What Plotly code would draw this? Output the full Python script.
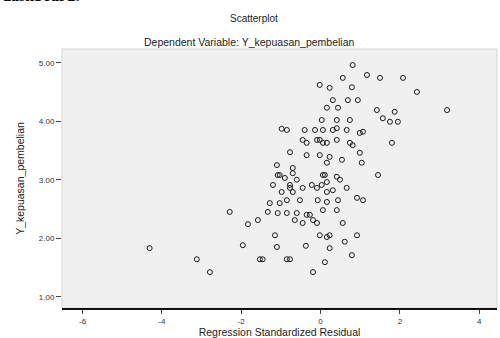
import plotly.graph_objects as go

# Regression standardized residual (x) vs dependent variable (y)
residual = [
    -4.31, -3.12, -2.79, -2.29, -1.83, -1.58, -1.96, -1.53, -1.46, -1.10,
    -1.15, -0.85, -0.77, -0.37, -0.19, -1.28, -1.03, -1.33, -1.08, -0.85,
    -0.60, -0.27, -0.45, -0.09, -0.02, 0.16, -1.03, -0.70, -1.20, -0.77,
    -0.45, -0.22, 0.03, 0.16, -0.52, -0.07, 0.16, -0.98, -0.70,
    -0.02, 0.16, 0.03, -0.98, -0.40, -0.14, -0.45, -0.09, 0.16, -0.77,
    -0.35, -0.02, -1.10, -0.70, -1.08, 0.11,
    0.81, 1.17, 1.50, 2.08, 0.56, 0.23, 0.79, 2.43, 0.31, 0.69,
    0.94, 1.42, 1.87, 3.19, 0.44, 1.57, 1.75, 1.95, 0.41, 0.74,
    0.31, 0.66, 1.07, -0.02, 0.41, 0.74, 1.80, 0.23, 0.54, 1.04,
    0.41, 1.45,
    -0.85, 0.06, 0.41, 0.99, -0.35, 0.06, 0.81, 0.16, 0.99, -0.90,
    -0.60, 0.06, 0.16, 0.49, -0.77, -0.09, 0.31, 0.66, 0.92, 1.07,
    -0.85, 0.44, 0.06, 0.41, -0.35, -0.19, 0.56, -0.65, 0.23, 0.92,
    0.23, 0.61, 0.11, 0.79,
]
kepuasan = [
    1.83, 1.64, 1.42, 2.45, 2.24, 2.31, 1.88, 1.64, 1.64, 1.85,
    2.05, 1.64, 1.64, 1.87, 1.42, 2.60, 2.60, 2.45, 2.43, 2.43,
    2.43, 2.40, 2.26, 2.26, 2.05, 2.02, 3.08, 3.11, 2.91, 2.91,
    2.86, 2.91, 2.91, 2.79, 2.65, 2.65, 2.62, 2.79, 2.79,
    4.62, 4.23, 4.02, 3.87, 3.85, 3.85, 3.68, 3.68, 3.63, 3.47,
    3.42, 3.42, 3.25, 3.20, 3.08, 3.08,
    4.96, 4.79, 4.74, 4.74, 4.74, 4.57, 4.58, 4.50, 4.36, 4.36,
    4.36, 4.19, 4.16, 4.19, 4.23, 4.05, 3.99, 3.99, 4.02, 4.02,
    3.85, 3.85, 3.82, 3.68, 3.68, 3.63, 3.63, 3.39, 3.34, 3.29,
    3.05, 3.08,
    3.85, 3.85, 3.88, 3.80, 3.63, 3.63, 3.59, 3.29, 3.46, 3.03,
    3.00, 3.08, 2.96, 3.00, 2.86, 2.86, 2.82, 2.86, 2.69, 2.65,
    2.65, 2.65, 2.48, 2.48, 2.40, 2.31, 2.26, 2.31, 2.05, 2.05,
    1.83, 1.94, 1.59, 1.71,
]

x_ticks = [-6, -4, -2, 0, 2, 4]
y_ticks = [1, 2, 3, 4, 5]
y_tick_labels = ["1.00", "2.00", "3.00", "4.00", "5.00"]

font = "Liberation Sans, Arial, sans-serif"

fig = go.Figure()
fig.add_trace(go.Scatter(
    x=residual, y=kepuasan, mode="markers",
    marker=dict(symbol="circle-open", size=5, color="#1a1a1a",
                line=dict(width=1, color="#1a1a1a")),
    hoverinfo="x+y", showlegend=False,
))

fig.update_layout(
    width=500, height=338,
    margin=dict(l=62, r=3, t=49, b=30),
    paper_bgcolor="white", plot_bgcolor="#f0f0f0",
    font=dict(family=font, color="#333333"),
    annotations=[
        dict(text="Scatterplot", x=0.5, xref="paper", y=1.118, yref="paper",
             xanchor="center", yanchor="middle", showarrow=False,
             font=dict(size=10, color="#222222"), xshift=-26),
        dict(text="Dependent Variable: Y_kepuasan_pembelian", x=0.5, xref="paper",
             y=1.027, yref="paper", xanchor="center", yanchor="middle",
             showarrow=False, font=dict(size=10.5, color="#222222"), xshift=-30),
        dict(text="<b>dashboard:</b>", x=-0.142, xref="paper", y=1.165, yref="paper",
             xanchor="left", yanchor="bottom", showarrow=False,
             font=dict(size=16, family="Liberation Serif, serif", color="black")),
    ],
    shapes=[
        dict(type="rect", xref="paper", yref="paper", x0=0, x1=1, y0=0, y1=1,
             line=dict(color="#d6d6d6", width=1), layer="below"),
    ],
)

fig.update_xaxes(
    range=[-6.52, 4.45], tickvals=x_ticks, ticktext=[str(v) for v in x_ticks],
    showgrid=False, zeroline=False, showline=True, linecolor="#111111", linewidth=2,
    ticks="outside", ticklen=4, tickcolor="#444444", tickwidth=1,
    tickfont=dict(size=8, color="#333333"),
    title=dict(text="Regression Standardized Residual", font=dict(size=10.5, color="#222222"),
               standoff=3),
)
fig.update_yaxes(
    range=[0.807, 5.234], tickvals=y_ticks, ticktext=y_tick_labels,
    showgrid=False, zeroline=False, showline=False,
    ticks="outside", ticklen=5, tickcolor="#444444", tickwidth=1,
    tickfont=dict(size=8, color="#333333"),
    title=dict(text="Y_kepuasan_pembelian", font=dict(size=10.5, color="#222222"),
               standoff=12),
)

fig.write_html(
    "out.html",
    config={"displayModeBar": False},
    post_script="document.body.style.margin='0';document.body.style.padding='0';",
)
